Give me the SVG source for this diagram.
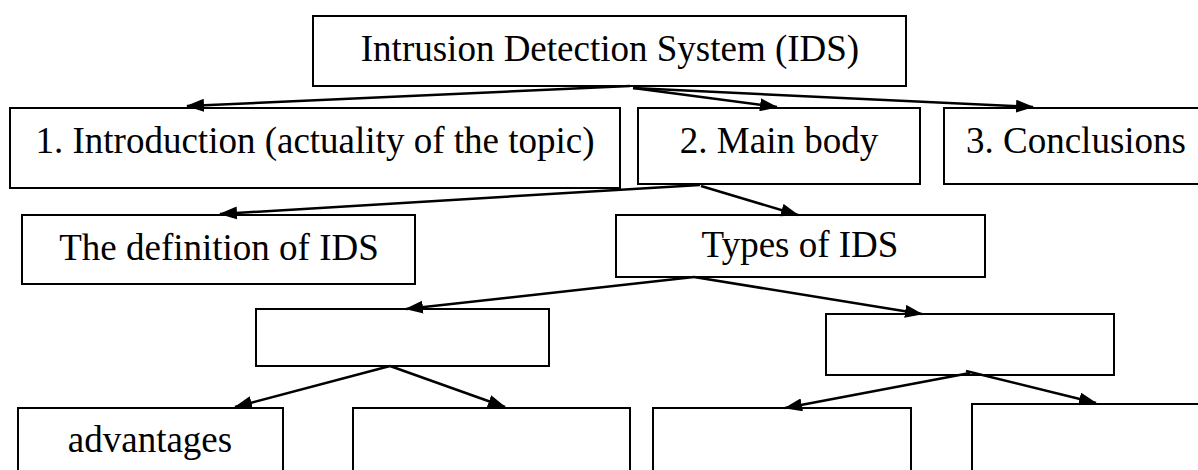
<svg xmlns="http://www.w3.org/2000/svg" width="1198" height="470" viewBox="0 0 1198 470">
  <style>
    .box { fill: #ffffff; stroke: #000000; stroke-width: 2; }
    .lbl { font-family: "Liberation Serif", "Times New Roman", serif; font-size: 37px; fill: #000000; }
    .link { stroke: #000000; stroke-width: 2.5; fill: none; marker-end: url(#arrow); }
  </style>
  <defs>
    <!-- filled triangular arrowhead shared by every connector -->
    <marker id="arrow" viewBox="0 0 18 13" refX="17" refY="6.5" markerWidth="18" markerHeight="13" markerUnits="userSpaceOnUse" orient="auto">
      <path d="M0,0 L18,6.5 L0,13 Z" fill="#000000"/>
    </marker>
  </defs>
  <rect width="1198" height="470" fill="#ffffff"/>

  <g id="ids">
    <rect class="box" x="313" y="16" width="593" height="70"/>
    <text class="lbl" x="610" y="61" text-anchor="middle">Intrusion Detection System (IDS)</text>
  </g>

  <g id="introduction">
    <rect class="box" x="10" y="108" width="610" height="80"/>
    <text class="lbl" x="315" y="153" text-anchor="middle">1. Introduction (actuality of the topic)</text>
  </g>

  <g id="main-body">
    <rect class="box" x="638" y="108" width="282" height="76"/>
    <text class="lbl" x="779" y="153" text-anchor="middle">2. Main body</text>
  </g>

  <g id="conclusions">
    <rect class="box" x="944" y="108" width="270" height="76"/>
    <text class="lbl" x="966" y="153">3. Conclusions</text>
  </g>

  <g id="definition">
    <rect class="box" x="22" y="215" width="393" height="69"/>
    <text class="lbl" x="219" y="260" text-anchor="middle">The definition of IDS</text>
  </g>

  <g id="types">
    <rect class="box" x="616" y="215" width="369" height="62"/>
    <text class="lbl" x="800" y="257" text-anchor="middle">Types of IDS</text>
  </g>

  <g id="type-a">
    <rect class="box" x="256" y="309" width="293" height="57"/>
  </g>

  <g id="type-b">
    <rect class="box" x="826" y="314" width="288" height="61"/>
  </g>

  <g id="advantages">
    <rect class="box" x="18" y="408" width="265" height="80"/>
    <text class="lbl" x="150" y="452" text-anchor="middle">advantages</text>
  </g>

  <g id="type-a-second">
    <rect class="box" x="353" y="408" width="277" height="80"/>
  </g>

  <g id="type-b-first">
    <rect class="box" x="653" y="408" width="258" height="80"/>
  </g>

  <g id="type-b-second">
    <rect class="box" x="972" y="404" width="240" height="84"/>
  </g>

  <g id="connectors">
    <line class="link" x1="630" y1="86" x2="187" y2="106"/>
    <line class="link" x1="633" y1="88" x2="777" y2="107"/>
    <line class="link" x1="633" y1="88" x2="1033" y2="107"/>
    <line class="link" x1="700" y1="185" x2="220" y2="214"/>
    <line class="link" x1="701" y1="186" x2="798" y2="215"/>
    <line class="link" x1="694" y1="277" x2="406" y2="309"/>
    <line class="link" x1="694" y1="277" x2="922" y2="314"/>
    <line class="link" x1="390" y1="366" x2="235" y2="407"/>
    <line class="link" x1="390" y1="366" x2="505" y2="407"/>
    <line class="link" x1="970" y1="373" x2="785" y2="408"/>
    <line class="link" x1="966" y1="371" x2="1096" y2="403"/>
  </g>
</svg>
